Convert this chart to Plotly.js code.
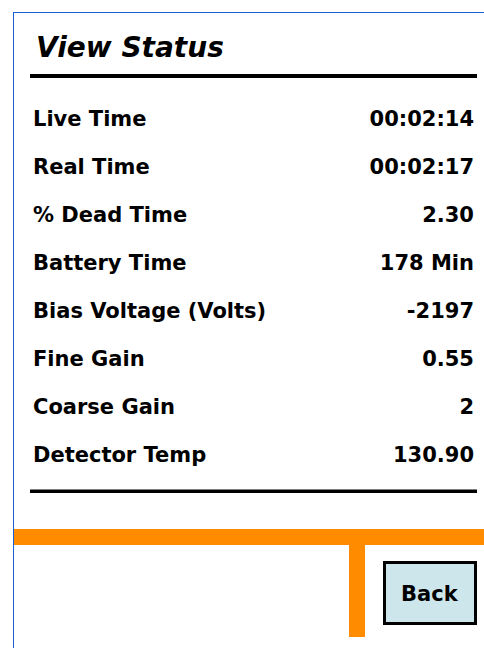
<!DOCTYPE html>
<html>
<head>
<meta charset="utf-8">
<script src="https://cdn.plot.ly/plotly-3.0.1.min.js"></script>
<style>html,body{margin:0;padding:0;background:#fff;}#chart{width:484px;height:648px;}</style>
</head>
<body>
<div id="chart"></div>
<script>
const titleText = "View Status";
const labels = ["Live Time", "Real Time", "% Dead Time", "Battery Time", "Bias Voltage (Volts)", "Fine Gain", "Coarse Gain", "Detector Temp"];
const values = ["00:02:14", "00:02:17", "2.30", "178 Min", "-2197", "0.55", "2", "130.90"];
const buttonLabel = "Back";

const FONT = "DejaVu Sans, Verdana, sans-serif";
const W = 484, H = 648;
// rows region in pixels (top..bottom)
const rowTop = 97, rowBottom = 481;

const traces = [
  {
    type: "scatter", mode: "text",
    x: labels.map(() => 0), y: labels,
    text: labels, textposition: "middle right",
    textfont: {family: FONT, size: 21, color: "#000", weight: "bold"},
    xaxis: "x2", yaxis: "y2", hoverinfo: "skip", showlegend: false
  },
  {
    type: "scatter", mode: "text",
    x: values.map(() => 1), y: labels,
    text: values, textposition: "middle left",
    textfont: {family: FONT, size: 21, color: "#000", weight: "bold"},
    xaxis: "x2", yaxis: "y2", hoverinfo: "skip", showlegend: false
  }
];

const orange = "#ff8c00";
const blue = "#1a5fd8";
const layout = {
  width: W, height: H,
  margin: {l: 0, r: 0, t: 0, b: 0, pad: 0},
  paper_bgcolor: "#fff", plot_bgcolor: "#fff",
  showlegend: false,
  title: {
    text: "<b><i>" + titleText + "</i></b>",
    font: {family: FONT, size: 28, color: "#000"},
    x: 36 / W, xanchor: "left", xref: "paper",
    y: 1 - 47 / H, yanchor: "middle", yref: "paper"
  },
  xaxis: {range: [0, W], visible: false, fixedrange: true, domain: [0, 1]},
  yaxis: {range: [H, 0], visible: false, fixedrange: true, domain: [0, 1]},
  xaxis2: {range: [0, 1], visible: false, fixedrange: true, domain: [33 / W, 474 / W], anchor: "y2"},
  yaxis2: {type: "category", categoryarray: labels, categoryorder: "array",
           range: [labels.length - 0.5, -0.5],
           visible: false, fixedrange: true, domain: [1 - rowBottom / H, 1 - rowTop / H], anchor: "x2"},
  shapes: [
    // blue frame
    {type: "line", xref: "x", yref: "y", x0: 13, x1: W, y0: 12.5, y1: 12.5, line: {color: blue, width: 1}},
    {type: "line", xref: "x", yref: "y", x0: 13.5, x1: 13.5, y0: 12, y1: H, line: {color: blue, width: 1}},
    // title rule
    {type: "rect", xref: "x", yref: "y", x0: 30, x1: 477, y0: 74, y1: 78, fillcolor: "#000", line: {width: 0}},
    // bottom rule
    {type: "rect", xref: "x", yref: "y", x0: 30, x1: 477, y0: 489.5, y1: 493, fillcolor: "#000", line: {width: 0}},
    // orange band
    {type: "rect", xref: "x", yref: "y", x0: 14, x1: W, y0: 529, y1: 545, fillcolor: orange, line: {width: 0}},
    {type: "rect", xref: "x", yref: "y", x0: 349, x1: 365, y0: 545, y1: 637, fillcolor: orange, line: {width: 0}},
    // back button
    {type: "rect", xref: "x", yref: "y", x0: 384.5, x1: 475.5, y0: 562.5, y1: 623.5, fillcolor: "#cde6ec", line: {color: "#000", width: 3}}
  ],
  annotations: [
    {xref: "x", yref: "y", x: 430, y: 594, text: "<b>" + buttonLabel + "</b>", showarrow: false,
     font: {family: FONT, size: 21, color: "#000"}, xanchor: "center", yanchor: "middle"}
  ]
};

Plotly.newPlot("chart", traces, layout, {displayModeBar: false, staticPlot: true});
</script>
</body>
</html>
